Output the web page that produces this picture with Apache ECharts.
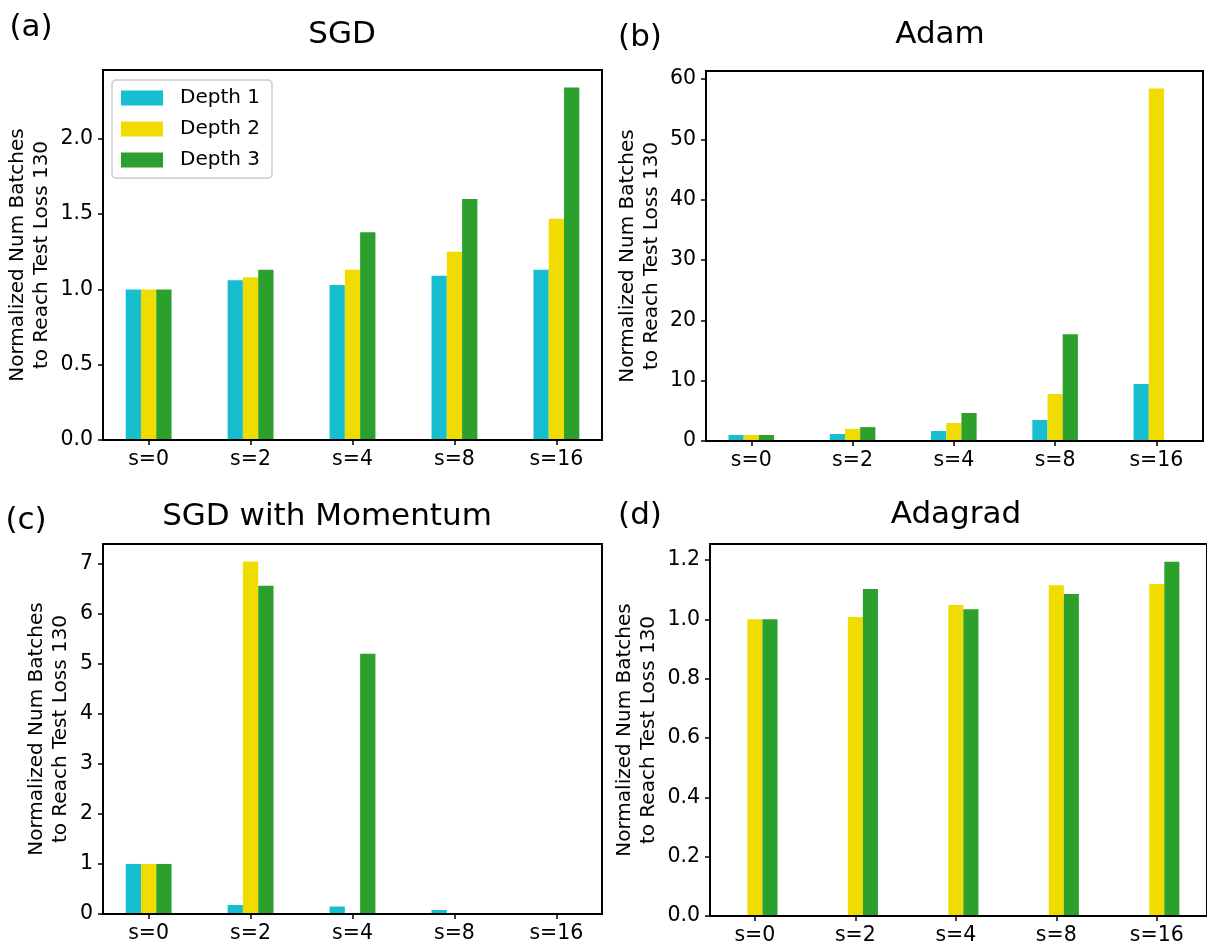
<!DOCTYPE html>
<html>
<head>
<meta charset="utf-8">
<script src="https://cdn.jsdelivr.net/npm/echarts@6/dist/echarts.min.js"></script>
<style>
html,body{margin:0;padding:0;background:#fff;}
#chart{width:1207px;height:946px;}
</style>
</head>
<body>
<div id="chart"></div>
<script>
// ---- data ----
const categories = ['s=0', 's=2', 's=4', 's=8', 's=16'];
const seriesNames = ['Depth 1', 'Depth 2', 'Depth 3'];

const sgdDepth1 = [1.0, 1.06, 1.03, 1.09, 1.13];
const sgdDepth2 = [1.0, 1.08, 1.13, 1.25, 1.47];
const sgdDepth3 = [1.0, 1.13, 1.38, 1.60, 2.34];

const adamDepth1 = [1.0, 1.16, 1.66, 3.48, 9.44];
const adamDepth2 = [1.0, 2.0, 2.98, 7.78, 58.4];
const adamDepth3 = [1.0, 2.3, 4.64, 17.7, null];

const momDepth1 = [1.0, 0.18, 0.15, 0.08, null];
const momDepth2 = [1.0, 7.04, null, null, null];
const momDepth3 = [1.0, 6.56, 5.2, null, null];

const adagradDepth1 = [null, null, null, null, null];
const adagradDepth2 = [1.0, 1.008, 1.048, 1.115, 1.119];
const adagradDepth3 = [1.0, 1.102, 1.034, 1.085, 1.194];

const sgdTicks = [0, 0.5, 1.0, 1.5, 2.0];
const adamTicks = [0, 10, 20, 30, 40, 50, 60];
const momTicks = [0, 1, 2, 3, 4, 5, 6, 7];
const adagradTicks = [0, 0.2, 0.4, 0.6, 0.8, 1.0, 1.2];

const yLabel = 'Normalized Num Batches\nto Reach Test Loss 130';

// ---- styling / layout ----
const colors = ['#17becf', '#f0dc00', '#2ca02c'];
const FONT = 'DejaVu Sans';

const panels = [
  {frame: [103, 602, 70, 440], data: [sgdDepth1, sgdDepth2, sgdDepth3], ticks: sgdTicks, dec: 1, nameGap: 49,
   title: 'SGD', titlePos: [342, 35], tag: '(a)', tagPos: [31, 28]},
  {frame: [706, 1203, 71, 441], data: [adamDepth1, adamDepth2, adamDepth3], ticks: adamTicks, dec: 0, nameGap: 42,
   title: 'Adam', titlePos: [940, 35], tag: '(b)', tagPos: [640, 38]},
  {frame: [103, 602, 544, 914], data: [momDepth1, momDepth2, momDepth3], ticks: momTicks, dec: 0, nameGap: 30,
   title: 'SGD with Momentum', titlePos: [327, 517], tag: '(c)', tagPos: [26, 521]},
  {frame: [710, 1208, 544, 916], data: [adagradDepth1, adagradDepth2, adagradDepth3], ticks: adagradTicks, dec: 1, nameGap: 49,
   title: 'Adagrad', titlePos: [956, 515], tag: '(d)', tagPos: [640, 516]}
];

const grid = [], xAxis = [], yAxis = [], series = [], graphic = [];

panels.forEach((p, i) => {
  const [L, R, T, B] = p.frame;
  const W = R - L, H = B - T;
  const u = W / 4.895;
  const vals = p.data.flat().filter(v => v != null);
  const ymax = Math.max(...vals) * 1.05;
  const fi = 2 * i, bi = 2 * i + 1;

  grid.push({left: L, top: T, width: W, height: H, show: true, borderColor: '#000', borderWidth: 2,
             backgroundColor: 'transparent', z: 10});
  grid.push({left: L - 0.0525 * u, top: T, width: 5 * u, height: H});

  xAxis.push({gridIndex: fi, type: 'value', min: 0, max: 1, show: false});
  xAxis.push({gridIndex: bi, type: 'category', data: categories,
    axisLine: {show: false},
    axisTick: {show: true, alignWithLabel: true, length: 5, lineStyle: {color: '#000', width: 1.5}},
    axisLabel: {fontSize: 20.5, fontFamily: FONT, color: '#000', margin: 9},
    splitLine: {show: false}});

  yAxis.push({gridIndex: fi, type: 'value', min: 0, max: ymax,
    axisLine: {show: false},
    axisTick: {show: true, length: 5, customValues: p.ticks, lineStyle: {color: '#000', width: 1.5}},
    axisLabel: {customValues: p.ticks, formatter: v => Number(v).toFixed(p.dec),
                fontSize: 20.5, fontFamily: FONT, color: '#000', margin: 10},
    splitLine: {show: false},
    name: yLabel, nameLocation: 'middle', nameGap: p.nameGap, nameRotate: 90,
    nameTextStyle: {fontSize: 20, fontFamily: FONT, color: '#000', lineHeight: 24, align: 'center'}});
  yAxis.push({gridIndex: bi, type: 'value', min: 0, max: ymax, show: false});

  p.data.forEach((d, k) => {
    series.push({type: 'bar', name: seriesNames[k], xAxisIndex: bi, yAxisIndex: bi, data: d,
      barWidth: '15%', barGap: '0%', itemStyle: {color: colors[k]}, silent: true});
  });

  graphic.push({type: 'text', x: p.titlePos[0], y: p.titlePos[1],
    style: {text: p.title, font: '31px "DejaVu Sans"', fill: '#000',
            align: 'center', verticalAlign: 'middle', textAlign: 'center', textVerticalAlign: 'middle'}});
  graphic.push({type: 'text', x: p.tagPos[0], y: p.tagPos[1],
    style: {text: p.tag, font: '31px "DejaVu Sans"', fill: '#000',
            align: 'center', verticalAlign: 'middle', textAlign: 'center', textVerticalAlign: 'middle'}});
});

const chart = echarts.init(document.getElementById('chart'), null, {renderer: 'canvas'});
chart.setOption({
  animation: false,
  backgroundColor: '#fff',
  textStyle: {fontFamily: FONT},
  grid, xAxis, yAxis, series, graphic,
  legend: {
    data: seriesNames,
    orient: 'vertical',
    left: 112, top: 80,
    padding: [8, 12, 8, 9],
    itemWidth: 42, itemHeight: 15, itemGap: 11,
    icon: 'rect',
    backgroundColor: '#fff',
    borderColor: '#cccccc', borderWidth: 1.5, borderRadius: 4,
    textStyle: {fontSize: 20, fontFamily: FONT, color: '#000', lineHeight: 20, padding: [0, 0, 0, 12]},
    z: 20
  }
});
</script>
</body>
</html>
